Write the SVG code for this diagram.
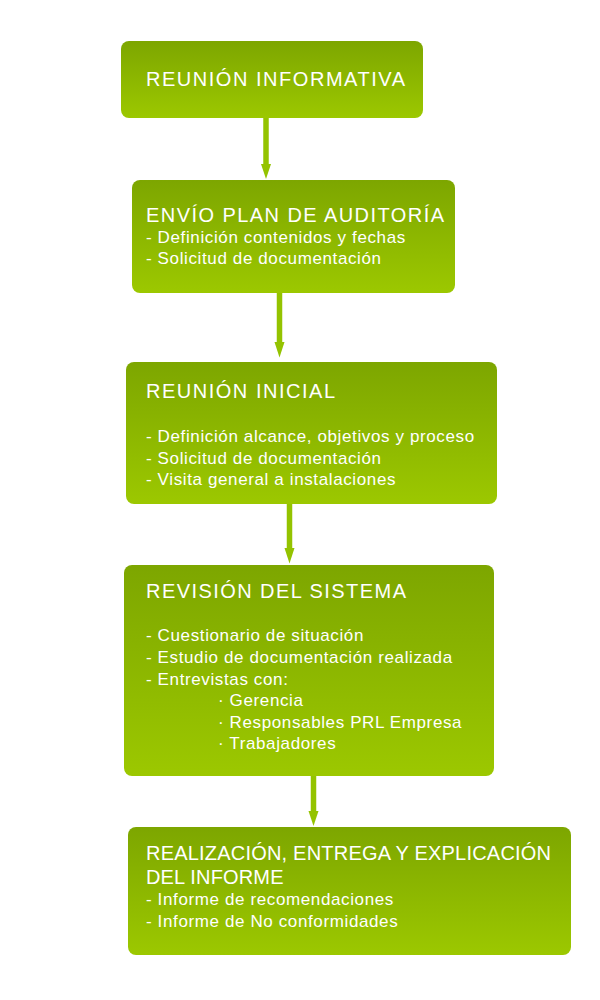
<svg xmlns="http://www.w3.org/2000/svg" width="600" height="1000" viewBox="0 0 600 1000">
<defs>
<linearGradient id="g" x1="0" y1="0" x2="0" y2="1">
<stop offset="0" stop-color="#7da600"/>
<stop offset="1" stop-color="#9cc800"/>
</linearGradient>
<style>
.box{fill:url(#g);}
.t{font-family:"Liberation Sans",Arial,sans-serif;fill:#fff;font-size:20px;}
.i{font-family:"Liberation Sans",Arial,sans-serif;fill:#fff;font-size:17px;letter-spacing:0.62px;}
.c{stroke:#94c300;stroke-width:5.5;fill:none;}
.h{fill:#94c300;}
</style>
</defs>
<rect width="600" height="1000" fill="#fff"/>
<g id="connectors">
<line class="c" x1="266" y1="118" x2="266" y2="166"/>
<path class="h" d="M261,164 L271,164 L266,179 Z"/>
<line class="c" x1="279.5" y1="292" x2="279.5" y2="344"/>
<path class="h" d="M274.5,342 L284.5,342 L279.5,357.5 Z"/>
<line class="c" x1="289.5" y1="504" x2="289.5" y2="550"/>
<path class="h" d="M284.5,548 L294.5,548 L289.5,563.5 Z"/>
<line class="c" x1="313.5" y1="776" x2="313.5" y2="813"/>
<path class="h" d="M308.5,811 L318.5,811 L313.5,826 Z"/>
</g>
<g id="n1">
<rect class="box" x="121" y="41" width="302" height="77" rx="8"/>
<text class="t" x="146" y="86" textLength="259" lengthAdjust="spacing">REUNIÓN INFORMATIVA</text>
</g>
<g id="n2">
<rect class="box" x="132" y="180" width="323" height="113" rx="8"/>
<text class="t" x="146" y="222" textLength="298" lengthAdjust="spacing">ENVÍO PLAN DE AUDITORÍA</text>
<text class="i" x="146" y="243">- Definición contenidos y fechas</text>
<text class="i" x="146" y="264">- Solicitud de documentación</text>
</g>
<g id="n3">
<rect class="box" x="126" y="362" width="371" height="142" rx="8"/>
<text class="t" x="146" y="397.5" textLength="189" lengthAdjust="spacing">REUNIÓN INICIAL</text>
<text class="i" x="146" y="442">- Definición alcance, objetivos y proceso</text>
<text class="i" x="146" y="464">- Solicitud de documentación</text>
<text class="i" x="146" y="485">- Visita general a instalaciones</text>
</g>
<g id="n4">
<rect class="box" x="124" y="565" width="370" height="211" rx="8"/>
<text class="t" x="146" y="598" textLength="260" lengthAdjust="spacing">REVISIÓN DEL SISTEMA</text>
<text class="i" x="146" y="641">- Cuestionario de situación</text>
<text class="i" x="146" y="663">- Estudio de documentación realizada</text>
<text class="i" x="146" y="685">- Entrevistas con:</text>
<text class="i" x="218" y="706">· Gerencia</text>
<text class="i" x="218" y="728">· Responsables PRL Empresa</text>
<text class="i" x="218" y="749">· Trabajadores</text>
</g>
<g id="n5">
<rect class="box" x="128" y="827" width="443" height="128" rx="8"/>
<text class="t" x="146" y="859.5" textLength="405" lengthAdjust="spacing">REALIZACIÓN, ENTREGA Y EXPLICACIÓN</text>
<text class="t" x="146" y="883.5" textLength="137.5" lengthAdjust="spacing">DEL INFORME</text>
<text class="i" x="146" y="905">- Informe de recomendaciones</text>
<text class="i" x="146" y="927">- Informe de No conformidades</text>
</g>
</svg>
